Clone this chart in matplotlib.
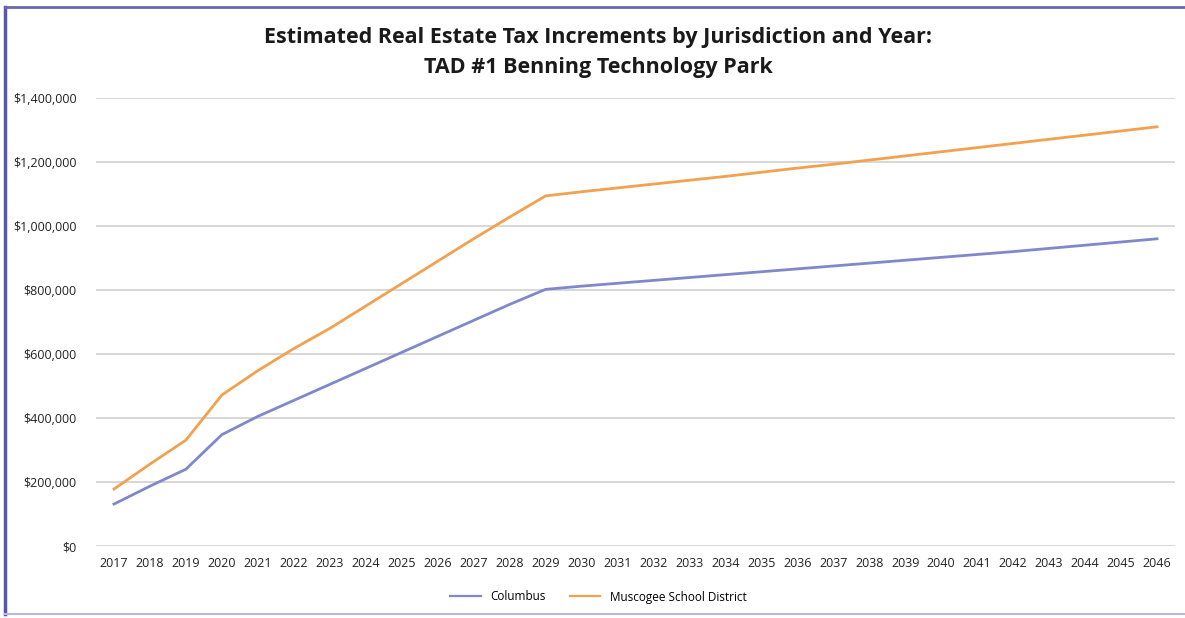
import matplotlib
matplotlib.use("Agg")
import matplotlib.pyplot as plt
from matplotlib.ticker import FuncFormatter
from matplotlib.lines import Line2D

years = list(range(2017, 2047))
columbus = [131000, 187000, 240000, 348000, 405000, 455000, 505000, 555000, 605000,
            655000, 705000, 755000, 802000, 812000, 821000, 830000, 839000, 848000,
            857000, 866000, 875000, 884000, 893000, 902000, 911000, 920000, 930000,
            940000, 950000, 960000]
muscogee = [178000, 256000, 331000, 472000, 548000, 617000, 680000, 750000, 820000,
            890000, 960000, 1028000, 1094000, 1107000, 1119000, 1131000, 1143000, 1155000,
            1168000, 1181000, 1193000, 1206000, 1219000, 1232000, 1245000, 1258000, 1271000,
            1284000, 1297000, 1310000]
series_names = ["Columbus", "Muscogee School District"]
series_colors = ["#8088cc", "#f2a14f"]
title_lines = ["Estimated Real Estate Tax Increments by Jurisdiction and Year:",
               "TAD #1 Benning Technology Park"]

fig = plt.figure(figsize=(11.85, 6.18), dpi=100)
ax = fig.add_axes([96/1185, 1 - 546/618, (1175-96)/1185, (546-98)/618])

x = list(range(len(years)))
ax.plot(x, columbus, color=series_colors[0], lw=2.0, label=series_names[0])
ax.plot(x, muscogee, color=series_colors[1], lw=2.0, label=series_names[1])

ax.set_xlim(-0.5, len(years) - 0.5)
ax.set_ylim(0, 1400000)
ax.set_yticks(range(0, 1400001, 200000))
ax.yaxis.set_major_formatter(FuncFormatter(lambda v, p: "${:,.0f}".format(v)))
ax.set_xticks(x)
ax.set_xticklabels([str(y) for y in years])
ax.grid(axis="y", color="#d4d4d4", lw=1.3)
ax.set_axisbelow(True)
for s in ax.spines.values():
    s.set_visible(False)
ax.tick_params(axis="both", length=0, labelsize=9, labelcolor="#222222")
ax.tick_params(axis="x", pad=8)
ax.tick_params(axis="y", pad=14)
for lab in ax.get_xticklabels() + ax.get_yticklabels():
    lab.set_fontfamily("Open Sans")

fig.text(0.505, 1 - 37/618, title_lines[0], ha="center", va="center",
         fontsize=15.5, fontweight="bold", family="Open Sans", color="#1a1a1a")
fig.text(0.505, 1 - 68/618, title_lines[1], ha="center", va="center",
         fontsize=15.5, fontweight="bold", family="Open Sans", color="#1a1a1a")

handles = [Line2D([0], [0], color=c, lw=1.6) for c in series_colors]
leg = fig.legend(handles, series_names, loc="center", bbox_to_anchor=(0.505, 1 - 597/618),
                 ncol=2, frameon=False, fontsize=8.5, handlelength=2.6, columnspacing=2.0,
                 prop={"family": "Open Sans", "size": 8.5})

# scanned frame
fig.add_artist(Line2D([5/1185, 5/1185], [1 - 7/618, 1 - 614/618], color="#5a55a8", lw=2.5,
                      transform=fig.transFigure))
fig.add_artist(Line2D([5/1185, 1], [1 - 7/618, 1 - 7/618], color="#6a65b0", lw=2.0,
                      transform=fig.transFigure))
fig.add_artist(Line2D([5/1185, 1], [1 - 614/618, 1 - 614/618], color="#b8b8dc", lw=1.5,
                      transform=fig.transFigure))

fig.savefig("out.png", dpi=100)
